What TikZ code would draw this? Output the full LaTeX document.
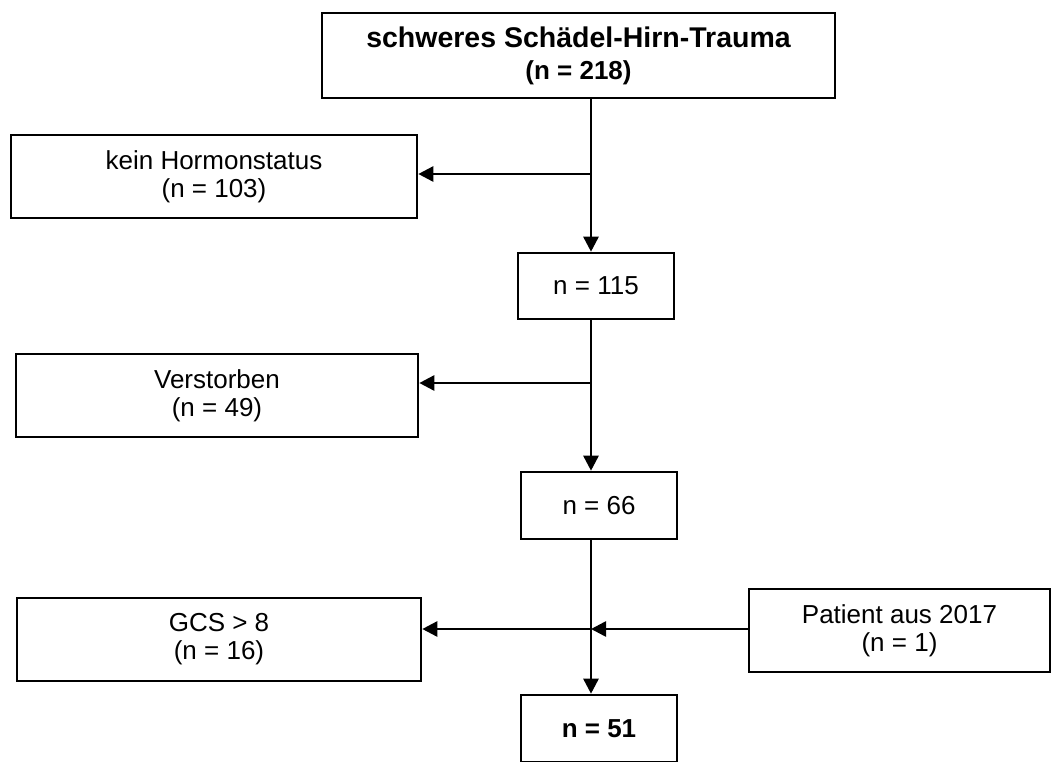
\documentclass[tikz,border=0pt]{standalone}
\usepackage{fontspec}
\setmainfont{Liberation Sans}
\usetikzlibrary{arrows.meta,calc}
\tikzset{
  box/.style={draw=black, line width=2.6pt, fill=white, inner sep=0pt, align=center,
              font=\fontsize{26}{28}\selectfont},
  arr/.style={line width=2.6pt, -{Triangle[length=15pt,width=15pt]}},
  ln/.style={line width=2.6pt}
}
\begin{document}
\begin{tikzpicture}[x=1pt,y=-1pt]
\useasboundingbox (0,0) rectangle (1063,761);
\clip (0,0) rectangle (1063,761);
\fill[white] (0,0) rectangle (1063,761);
\node[box, minimum width=513pt, minimum height=85pt] (top) at (578.5,55.5)
  {{\fontsize{28.5}{32}\selectfont\bfseries schweres Schädel-Hirn-Trauma}\\[4pt]{\bfseries (n = 218)}};
\node[box, minimum width=406pt, minimum height=83pt] (kein) at (214,176.5) {kein Hormonstatus\\(n = 103)};
\node[box, minimum width=156pt, minimum height=66pt] (n115) at (596,286) {n = 115};
\node[box, minimum width=402pt, minimum height=83pt] (verst) at (217,395.5) {Verstorben\\(n = 49)};
\node[box, minimum width=156pt, minimum height=67pt] (n66) at (599,505.5) {n = 66};
\node[box, minimum width=404pt, minimum height=83pt] (gcs) at (219,639.5) {GCS > 8\\(n = 16)};
\node[box, minimum width=301pt, minimum height=83pt] (pat) at (899.5,630.5) {Patient aus 2017\\(n = 1)};
\node[box, minimum width=156pt, minimum height=67pt, font=\fontsize{26}{28}\selectfont\bfseries] (n51) at (599,728.5) {n = 51};
\coordinate (sx) at (591,0);
\coordinate (j1) at (591,174);
\coordinate (j2) at (591,383);
\coordinate (j3) at (591,629);
\draw[arr] (top.south -| sx) -- (n115.north -| sx);
\draw[arr] (j1) -- (j1 -| kein.east);
\draw[arr] (n115.south -| sx) -- (n66.north -| sx);
\draw[arr] (j2) -- (j2 -| verst.east);
\draw[arr] (n66.south -| sx) -- (n51.north -| sx);
\draw[arr] (j3) -- (j3 -| gcs.east);
\draw[arr] (pat.west |- j3) -- (j3);
\end{tikzpicture}
\end{document}
